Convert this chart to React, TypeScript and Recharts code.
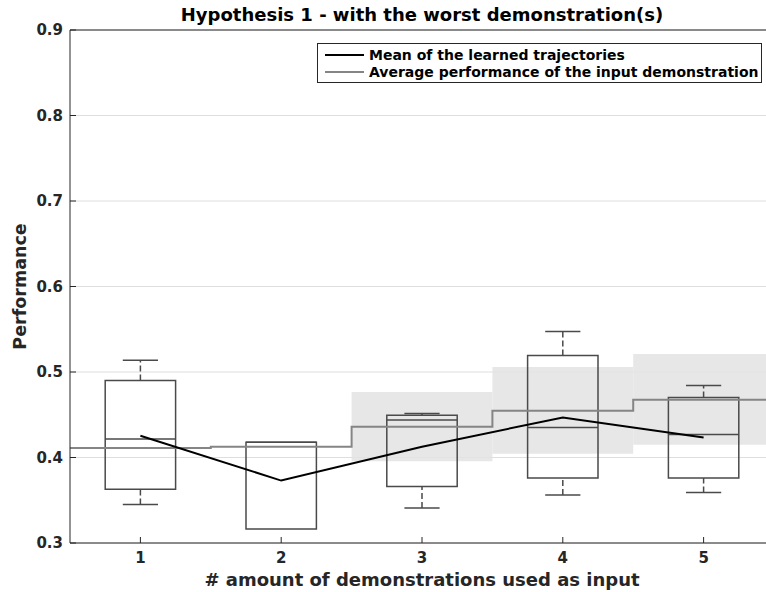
import React from 'react'
import {
  ComposedChart, Line, XAxis, YAxis, CartesianGrid, ReferenceArea,
  ReferenceLine, Legend,
} from 'recharts'

// ─── Data ───────────────────────────────────────────────────────────────────
const positions = [1, 2, 3, 4, 5]
const whiskerLow = [0.345, 0.3165, 0.341, 0.356, 0.359]
const q1 = [0.363, 0.3165, 0.366, 0.376, 0.376]
const median = [0.4215, 0.4177, 0.4438, 0.4352, 0.427]
const q3 = [0.490, 0.4177, 0.4495, 0.5194, 0.4703]
const whiskerHigh = [0.5136, 0.4177, 0.4516, 0.5475, 0.4843]

const meanLearned = [0.4255, 0.373, 0.4125, 0.4469, 0.4235]
const avgInput = [0.411, 0.4125, 0.436, 0.4547, 0.4676]
const avgLow: (number | null)[] = [null, null, 0.3955, 0.4045, 0.415]
const avgHigh: (number | null)[] = [null, null, 0.4766, 0.5059, 0.521]

const yTicks = [0.3, 0.4, 0.5, 0.6, 0.7, 0.8, 0.9]
const legendItems = [
  { label: 'Mean of the learned trajectories', color: '#000000' },
  { label: 'Average performance of the input demonstration', color: '#858585' },
]

// ─── Style ──────────────────────────────────────────────────────────────────
const FONT = '"DejaVu Sans", sans-serif'
const AXIS = '#262626'
const BOX = '#4a4a4a'
const BOX_HALF = 0.25
const CAP_HALF = 0.125

const meanData = positions.map((x, i) => ({ x, y: meanLearned[i] }))
const stepData = [
  ...positions.map((x, i) => ({ x: x - 0.5, y: avgInput[i] })),
  { x: positions[positions.length - 1] + 0.5, y: avgInput[avgInput.length - 1] },
]

function ChartLegend() {
  return (
    <div
      style={{
        width: 443, height: 38, border: `1px solid ${AXIS}`, background: '#fff',
        fontFamily: FONT, fontWeight: 'bold', fontSize: 14, color: '#000',
        position: 'relative',
      }}
    >
      {legendItems.map((it, i) => (
        <div
          key={it.label}
          style={{
            position: 'absolute', left: 7, top: 2 + i * 17, height: 17,
            display: 'flex', alignItems: 'center', whiteSpace: 'nowrap',
          }}
        >
          <div style={{ width: 39, height: 2, background: it.color, marginRight: 5 }} />
          <span>{it.label}</span>
        </div>
      ))}
    </div>
  )
}

export default function App() {
  const bands = positions.map((x, i) =>
    avgLow[i] != null && avgHigh[i] != null ? (
      <ReferenceArea
        key={`band-${i}`}
        x1={x - 0.5} x2={x + 0.5} y1={avgLow[i] as number} y2={avgHigh[i] as number}
        fill="#e3e3e3" fillOpacity={0.85} stroke="none"
      />
    ) : null,
  )

  const boxes: React.ReactNode[] = []
  positions.forEach((x, i) => {
    boxes.push(
      <ReferenceArea
        key={`box-${i}`}
        x1={x - BOX_HALF} x2={x + BOX_HALF} y1={q1[i]} y2={q3[i]}
        fill="none" fillOpacity={0} stroke={BOX} strokeWidth={1.5}
      />,
      <ReferenceLine
        key={`med-${i}`}
        segment={[{ x: x - BOX_HALF, y: median[i] }, { x: x + BOX_HALF, y: median[i] }]}
        stroke={BOX} strokeWidth={1.5}
      />,
    )
    if (whiskerHigh[i] > q3[i]) {
      boxes.push(
        <ReferenceLine
          key={`wh-${i}`}
          segment={[{ x, y: q3[i] }, { x, y: whiskerHigh[i] }]}
          stroke={BOX} strokeWidth={1.5} strokeDasharray="6 3"
        />,
        <ReferenceLine
          key={`ch-${i}`}
          segment={[{ x: x - CAP_HALF, y: whiskerHigh[i] }, { x: x + CAP_HALF, y: whiskerHigh[i] }]}
          stroke={BOX} strokeWidth={1.5}
        />,
      )
    }
    if (whiskerLow[i] < q1[i]) {
      boxes.push(
        <ReferenceLine
          key={`wl-${i}`}
          segment={[{ x, y: whiskerLow[i] }, { x, y: q1[i] }]}
          stroke={BOX} strokeWidth={1.5} strokeDasharray="6 3"
        />,
        <ReferenceLine
          key={`cl-${i}`}
          segment={[{ x: x - CAP_HALF, y: whiskerLow[i] }, { x: x + CAP_HALF, y: whiskerLow[i] }]}
          stroke={BOX} strokeWidth={1.5}
        />,
      )
    }
  })

  const tickStyle = { fill: AXIS, fontSize: 15, fontWeight: 'bold' as const, fontFamily: FONT }

  return (
    <div
      style={{
        position: 'absolute', left: 0, top: 0, width: 766, height: 592,
        overflow: 'hidden', background: '#fff',
      }}
    >
      <div
        style={{
          position: 'absolute', left: 0, top: 6, width: 844, textAlign: 'center',
          fontFamily: FONT, fontWeight: 'bold', fontSize: 18, lineHeight: '18px',
          color: '#000', whiteSpace: 'nowrap', zIndex: 2,
        }}
      >
        Hypothesis 1 - with the worst demonstration(s)
      </div>
      <ComposedChart
        width={790}
        height={592}
        margin={{ top: 29, right: 16, bottom: 19, left: 10 }}
      >
        <CartesianGrid vertical={false} horizontal stroke="#dedede" />
        {bands}
        <XAxis
          xAxisId={0}
          type="number"
          dataKey="x"
          domain={[0.5, 5.5]}
          ticks={positions}
          allowDataOverflow
          height={30}
          tickSize={-6}
          tickMargin={15}
          tick={tickStyle}
          axisLine={{ stroke: AXIS }}
          tickLine={{ stroke: AXIS }}
          label={{
            content: ({ viewBox }: any) => (
              <text
                x={viewBox.x + viewBox.width / 2}
                y={586}
                textAnchor="middle"
                fill={AXIS}
                fontFamily={FONT}
                fontWeight="bold"
                fontSize={18}
              >
                # amount of demonstrations used as input
              </text>
            ),
          }}
        />
        <XAxis
          xAxisId="top"
          orientation="top"
          type="number"
          dataKey="x"
          domain={[0.5, 5.5]}
          ticks={positions}
          allowDataOverflow
          height={1}
          tickSize={-6}
          tick={false}
          axisLine={{ stroke: AXIS }}
          tickLine={{ stroke: AXIS }}
        />
        <YAxis
          type="number"
          domain={[0.3, 0.9]}
          ticks={yTicks}
          allowDataOverflow
          width={60}
          tickSize={-6}
          tickMargin={13}
          tick={tickStyle}
          tickFormatter={(v: number) => v.toFixed(1)}
          axisLine={{ stroke: AXIS }}
          tickLine={{ stroke: AXIS }}
          label={{
            content: ({ viewBox }: any) => (
              <text
                x={20}
                y={viewBox.y + viewBox.height / 2}
                transform={`rotate(-90 20 ${viewBox.y + viewBox.height / 2})`}
                textAnchor="middle"
                dominantBaseline="central"
                fill={AXIS}
                fontFamily={FONT}
                fontWeight="bold"
                fontSize={17.5}
              >
                Performance
              </text>
            ),
          }}
        />
        {boxes}
        <Line
          data={stepData}
          dataKey="y"
          type="stepAfter"
          stroke="#858585"
          strokeWidth={2}
          dot={false}
          activeDot={false}
          isAnimationActive={false}
          name="Average performance of the input demonstration"
        />
        <Line
          data={meanData}
          dataKey="y"
          type="linear"
          stroke="#000"
          strokeWidth={2}
          dot={false}
          activeDot={false}
          isAnimationActive={false}
          name="Mean of the learned trajectories"
        />
        <Legend
          layout="horizontal"
          verticalAlign="middle"
          align="center"
          content={() => <ChartLegend />}
          wrapperStyle={{ top: 43, left: 317, width: 445, height: 40 }}
        />
      </ComposedChart>
    </div>
  )
}
